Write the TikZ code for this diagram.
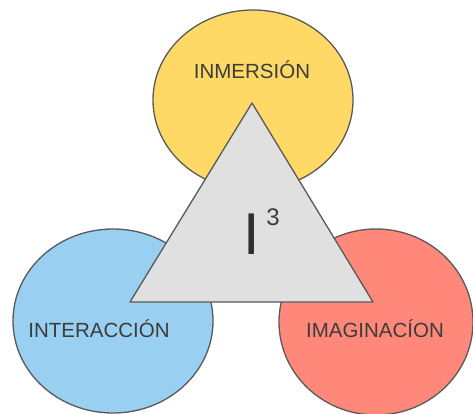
\documentclass[tikz,border=0pt]{standalone}
\usepackage{fontspec}
\setmainfont{Liberation Sans}
\usetikzlibrary{shapes.geometric}
\definecolor{cyel}{HTML}{FFD966}
\definecolor{cblu}{HTML}{99CFF0}
\definecolor{cred}{HTML}{FF887A}
\definecolor{cgry}{HTML}{E0E0E0}
\definecolor{cstk}{HTML}{595959}
\definecolor{ctxt}{HTML}{3C3C3C}
\begin{document}
\begin{tikzpicture}[x=1pt,y=-1pt,
  blob/.style={ellipse, draw=cstk, line width=1.3pt, inner sep=0pt},
  lbl/.style={anchor=base, inner sep=0pt, text=ctxt, font=\fontsize{20.5}{24}\selectfont}]
\useasboundingbox (0,0) rectangle (473,414);
\node[blob, fill=cyel, minimum width=200pt, minimum height=180pt] (yel) at (253,100) {};
\node[blob, fill=cblu, minimum width=200pt, minimum height=184pt] (blu) at (113,321) {};
\node[blob, fill=cred, minimum width=194pt, minimum height=186pt] (red) at (376,322) {};
\coordinate (apex) at (252,103);
\coordinate (bl) at (130,302);
\coordinate (br) at (373,302);
\draw[fill=cgry, draw=cstk, line width=1.3pt, line join=round] (apex) -- (bl) -- (br) -- cycle;
\node[lbl] (tin) at (252,79) {INMERSIÓN};
\node[lbl] (tint) at (99,337) {INTERACCIÓN};
\node[lbl] (tim) at (375,337) {IMAGINACÍON};
\node[inner sep=0pt, text=ctxt!80!black, font=\fontsize{59}{60}\selectfont, anchor=base] (bigi) at (252,254) {I};
\node[inner sep=0pt, text=ctxt, font=\fontsize{24}{26}\selectfont, anchor=base] (three) at (273,225) {3};
\end{tikzpicture}
\end{document}
